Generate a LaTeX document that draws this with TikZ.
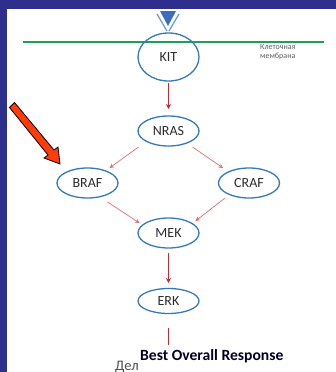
\documentclass[tikz,border=0pt]{standalone}
\usepackage{fontspec}
\setmainfont{Carlito}
\usetikzlibrary{shapes.geometric,arrows.meta,calc}
\definecolor{bgpurple}{RGB}{46,46,140}
\definecolor{ellblue}{RGB}{52,122,182}
\definecolor{arrred}{RGB}{200,40,50}
\definecolor{arrpink}{RGB}{228,110,115}
\definecolor{memgreen}{RGB}{30,160,90}
\definecolor{txtgray}{RGB}{45,45,45}
\definecolor{trifill}{RGB}{60,110,190}
\definecolor{trilight}{RGB}{110,160,210}
\definecolor{bigarrow}{RGB}{255,60,10}
\begin{document}
\begin{tikzpicture}[x=1pt,y=-1pt,
  prot/.style={ellipse,draw=ellblue,line width=1.3pt,fill=white,minimum width=61pt,minimum height=30pt,inner sep=0pt,font=\fontsize{14}{14}\selectfont,text=txtgray},
  mainarr/.style={draw=arrred,line width=0.9pt,-{Stealth[length=5pt,width=5pt]}},
  sidearr/.style={draw=arrpink,line width=0.7pt,-{Stealth[length=4.5pt,width=4.5pt]}}]
\useasboundingbox (0,0) rectangle (336,372);
\clip (0,0) rectangle (336,372);
\fill[bgpurple] (0,0) rectangle (336,372);
\fill[white] (7,9) rectangle (336,372);
% triangle
\fill[trifill] (160,11) -- (176,11) -- (168,26) -- cycle;
\draw[trilight,line width=1.3pt] (157,14) -- (167,31);
\draw[trilight,line width=1.3pt] (179,14) -- (169,31);
% membrane
\draw[memgreen,line width=1.8pt] (23,42) -- (324,42);
\node[prot,minimum height=48pt,fill=none] (kit) at (168.5,57) {KIT};
\node[anchor=north west,font=\fontsize{8}{9.5}\selectfont,text=txtgray!75,align=left,inner sep=0pt] (memlbl) at (260,44) {Клеточная\\мембрана};
\node[prot] (nras) at (168.5,131) {NRAS};
\node[prot] (braf) at (87.5,183) {BRAF};
\node[prot] (craf) at (249,183) {CRAF};
\node[prot] (mek) at (168.5,233) {MEK};
\node[prot,minimum height=25pt] (erk) at (168.5,301) {ERK};
\draw[mainarr] ($(kit)+(0,26)$) -- ($(nras)+(0,-22)$);
\draw[sidearr] ($(nras)+(-30,16)$) -- ($(braf)+(22,-15)$);
\draw[sidearr] ($(nras)+(24,16)$) -- ($(craf)+(-26,-15)$);
\draw[sidearr] ($(braf)+(20,19)$) -- ($(mek)+(-29,-10)$);
\draw[sidearr] ($(craf)+(-24,15)$) -- ($(mek)+(27,-12)$);
\draw[mainarr] ($(mek)+(0,20)$) -- ($(erk)+(0,-18)$);
\coordinate (lineend) at ($(erk)+(0,44)$);
\draw[arrred,line width=0.9pt] ($(erk)+(0,27)$) -- (lineend);
\node[anchor=base west,inner sep=0pt,font=\fontsize{15.6}{15.6}\selectfont\bfseries,text=black!85!blue] (bor) at (140,360) {Best Overall Response};
\node[anchor=north west,inner sep=0pt,font=\fontsize{14.5}{14.5}\selectfont,text=txtgray!85] (del) at (115,361) {Дел};
% red arrow
\draw[black,line width=0.8pt,fill=bigarrow]
  (9.5,107.5) -- (14.5,102.5) -- (54,150) -- (58,147) -- (60,164) -- (44,158) -- (48,155) -- cycle;
\end{tikzpicture}
\end{document}
